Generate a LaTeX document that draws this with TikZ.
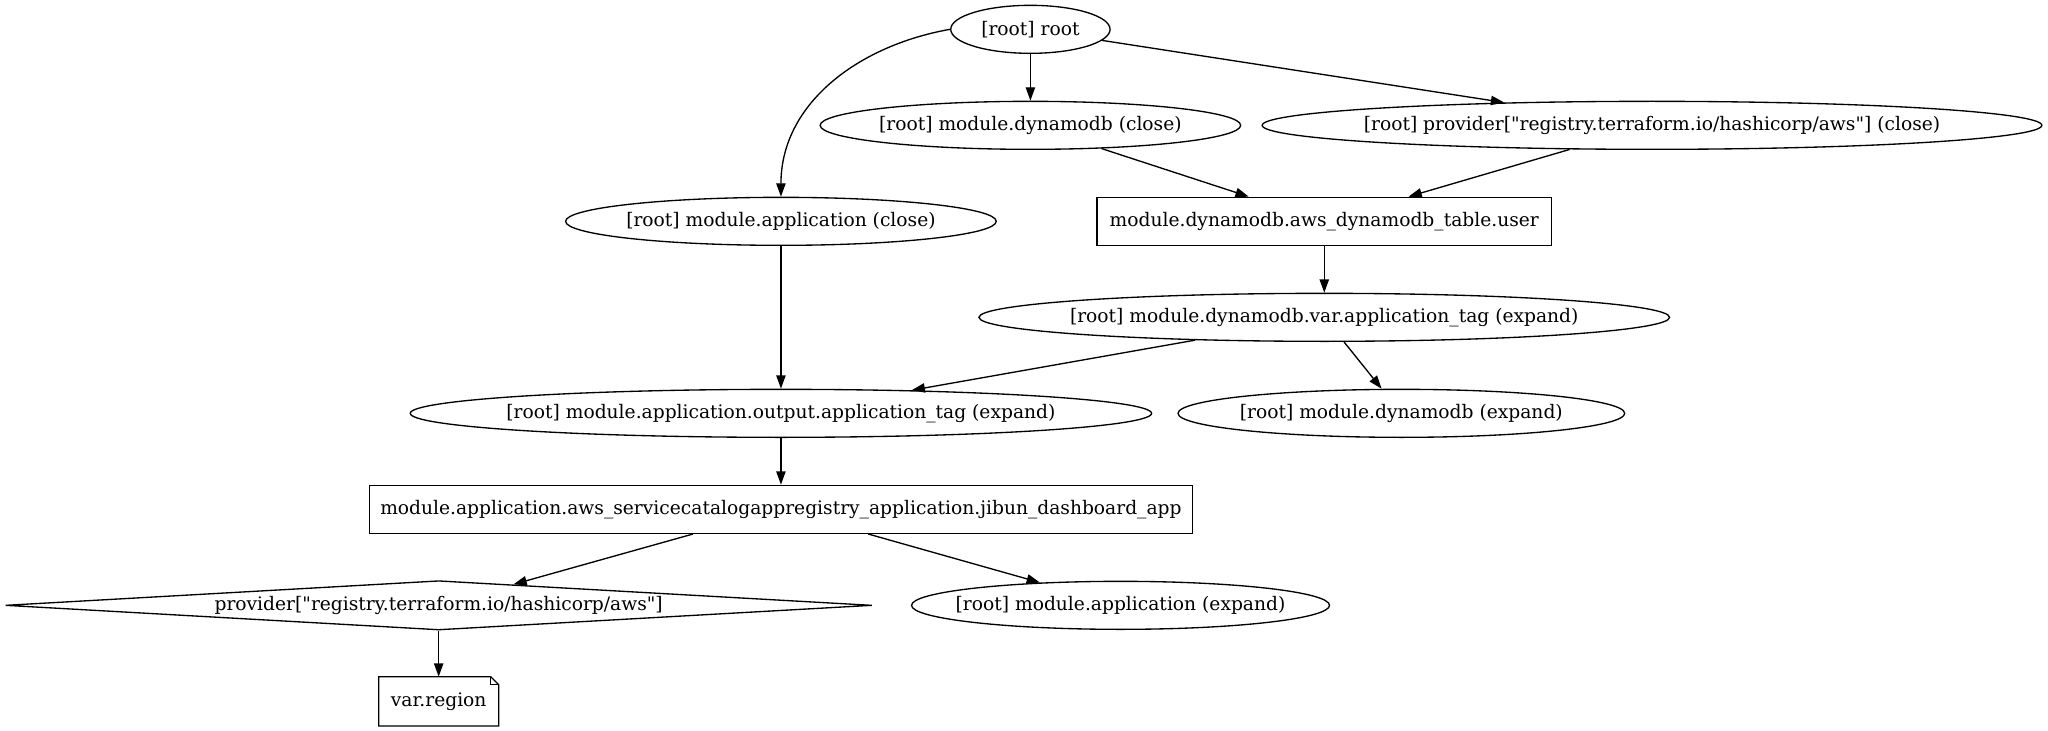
\documentclass[tikz,border=0pt]{standalone}
\usepackage{fontspec}
\setmainfont{DejaVu Serif}[Ligatures=TeXOff]
\usetikzlibrary{shapes.geometric,arrows.meta}

\begin{document}
\begin{tikzpicture}[x=1pt,y=1pt,
        every node/.style={font=\fontsize{14}{16}\selectfont, line width=1pt, minimum height=36pt, inner sep=0pt},
        oval/.style={draw, ellipse, inner xsep=-60pt},
        box/.style={draw, rectangle},
        arr/.style={-{Triangle[length=10pt,width=7pt]}, line width=1pt}]
        \useasboundingbox (0,0) rectangle (1536,-548.25);
        \node[oval, minimum width=119.5pt] (root) at (772.8,-22) {[root] root};
        \node[oval, minimum width=315.4pt] (dynclose) at (772.8,-94) {[root] module.dynamodb (close)};
        \node[oval, minimum width=584.8pt] (provclose) at (1239,-94) {[root] provider["registry.terraform.io/hashicorp/aws"] (close)};
        \node[oval, minimum width=323pt] (appclose) at (585.7,-166) {[root] module.application (close)};
        \node[box, minimum width=341pt] (table) at (993.2,-166) {module.dynamodb.aws\_dynamodb\_table.user};
        \node[oval, minimum width=518pt] (vartag) at (993.2,-238) {[root] module.dynamodb.var.application\_tag (expand)};
        \node[oval, minimum width=556pt] (outtag) at (585.7,-310) {[root] module.application.output.application\_tag (expand)};
        \node[oval, minimum width=335pt] (dynexp) at (1051,-310) {[root] module.dynamodb (expand)};
        \node[box, minimum width=617pt] (app) at (585.7,-382) {module.application.aws\_servicecatalogappregistry\_application.jibun\_dashboard\_app};
        \node[draw, diamond, aspect=17, minimum width=650pt, minimum height=37pt] (prov) at (329,-454) {provider["registry.terraform.io/hashicorp/aws"]};
        \node[oval, minimum width=313.5pt] (appexp) at (840.4,-454) {[root] module.application (expand)};
        \node[minimum width=89pt] (region) at (329,-526) {var.region};
        % note shape
        \draw[line width=1pt] (region.south west) -- (region.north west) -- ([xshift=-6pt]region.north east)
            -- ([yshift=-6pt]region.north east) -- (region.south east) -- cycle;
        \draw[line width=1pt] ([xshift=-6pt]region.north east) |- ([yshift=-6pt]region.north east);

        \draw[arr] (root) -- (dynclose);
        \draw[arr] (root) -- (provclose);
        \draw[arr] (root.west) to[out=190,in=90] (appclose);
        \draw[arr] (dynclose) -- (table);
        \draw[arr] (provclose) -- (table);
        \draw[arr] (table) -- (vartag);
        \draw[arr] (appclose) -- (outtag);
        \draw[arr] (vartag) -- (outtag);
        \draw[arr] (vartag) -- (dynexp);
        \draw[arr] (outtag) -- (app);
        \draw[arr] (app) -- (prov);
        \draw[arr] (app) -- (appexp);
        \draw[arr] (prov) -- (region);
    \end{tikzpicture}
\end{document}
